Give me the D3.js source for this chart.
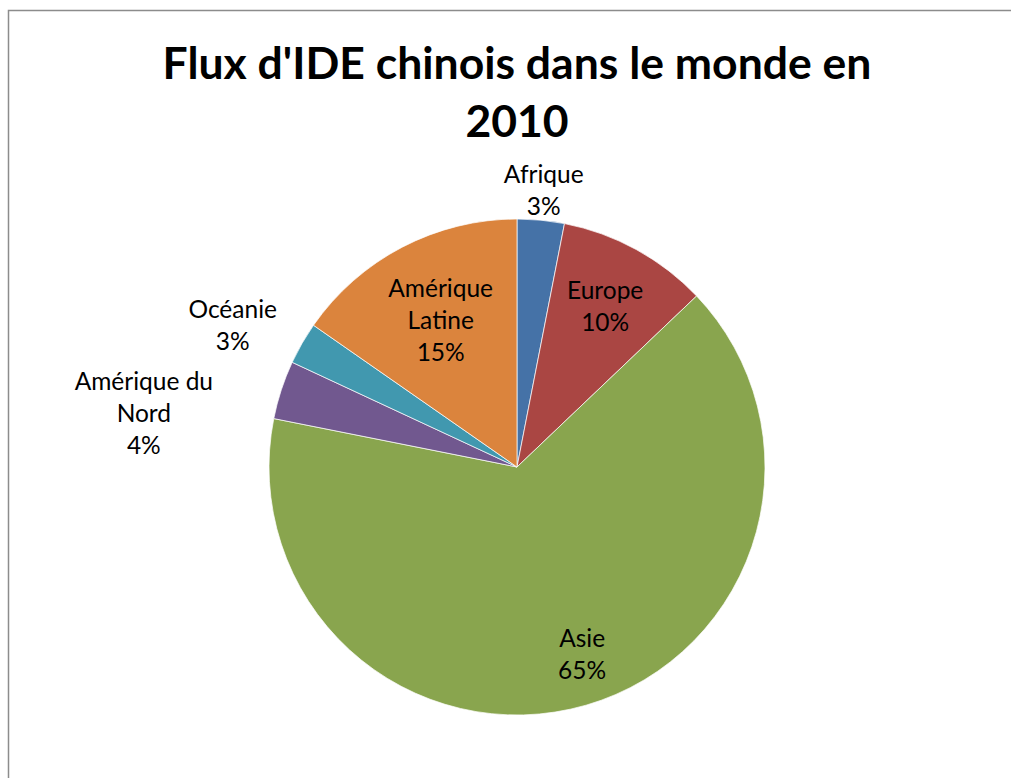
<!DOCTYPE html>
<html lang="fr">
<head>
  <meta charset="UTF-8">
  <title>Flux d'IDE chinois dans le monde en 2010</title>
  <script src="https://d3js.org/d3.v7.min.js"></script>
  <style>
    body {
      margin: 0;
      background: #ffffff;
      overflow: hidden;
    }
    .title {
      font-family: Lato, "Open Sans", sans-serif;
      font-weight: bold;
      font-size: 44.5px;
      fill: #000;
    }
    .label {
      font-family: Lato, "Open Sans", sans-serif;
      font-size: 24.5px;
      fill: #000;
    }
  </style>
</head>
<body>
  <svg id="chart"></svg>
  <script>
    // données (milliards USD, flux 2010)
    const regions = ["Afrique", "Europe", "Asie", "Amérique du Nord", "Océanie", "Amérique Latine"];
    const labelLines = [["Afrique"], ["Europe"], ["Asie"], ["Amérique du", "Nord"], ["Océanie"], ["Amérique", "Latine"]];
    const flux = [2.11, 6.76, 44.89, 2.62, 1.89, 10.54];
    const colors = ["#4572A7", "#AA4643", "#89A54E", "#71588F", "#4198AF", "#DB843D"];

    // placement des étiquettes : rayon (fraction de R) et décalage d'angle (degrés)
    const labelRadius = [1.12, 0.74, 0.80, 1.52, 1.28, 0.665];
    const labelShift = [0, 0, -3, -10, -3.5, 0];

    const width = 1011, height = 778;
    const cx = 517, cy = 467, R = 248;
    const lineH = 32, capH = 17;

    const svg = d3.select("#chart")
      .attr("width", width)
      .attr("height", height);

    svg.append("rect")
      .attr("x", 8.5).attr("y", 10.5)
      .attr("width", 1200).attr("height", 1000)
      .attr("fill", "#fff")
      .attr("stroke", "#8c8c8c")
      .attr("stroke-width", 1.5);

    const title = svg.append("text")
      .attr("class", "title")
      .attr("text-anchor", "middle");
    title.append("tspan").attr("x", 517).attr("y", 79).text("Flux d'IDE chinois dans le monde en");
    title.append("tspan").attr("x", 517).attr("y", 137).text("2010");

    const total = d3.sum(flux);
    const data = regions.map((r, i) => ({
      region: r, value: flux[i], lines: labelLines[i],
      color: colors[i], k: labelRadius[i], shift: labelShift[i]
    }));

    const pie = d3.pie().sort(null).value(d => d.value);
    const arc = d3.arc().innerRadius(0).outerRadius(R);
    const arcs = pie(data);

    const g = svg.append("g").attr("transform", `translate(${cx},${cy})`);

    g.selectAll("path")
      .data(arcs)
      .enter()
      .append("path")
      .attr("d", arc)
      .attr("fill", d => d.data.color)
      .attr("stroke", "#fff")
      .attr("stroke-width", 0.7);

    arcs.forEach(d => {
      const a = (d.startAngle + d.endAngle) / 2 + d.data.shift * Math.PI / 180;
      const r = R * d.data.k;
      const x = Math.sin(a) * r;
      const y = -Math.cos(a) * r;
      const lines = d.data.lines.concat([Math.round(d.data.value / total * 100) + "%"]);
      const first = y - ((lines.length - 1) * lineH - capH) / 2;
      const t = g.append("text")
        .attr("class", "label")
        .attr("text-anchor", "middle");
      lines.forEach((l, i) => {
        t.append("tspan").attr("x", x).attr("y", first + i * lineH).text(l);
      });
    });
  </script>
</body>
</html>
